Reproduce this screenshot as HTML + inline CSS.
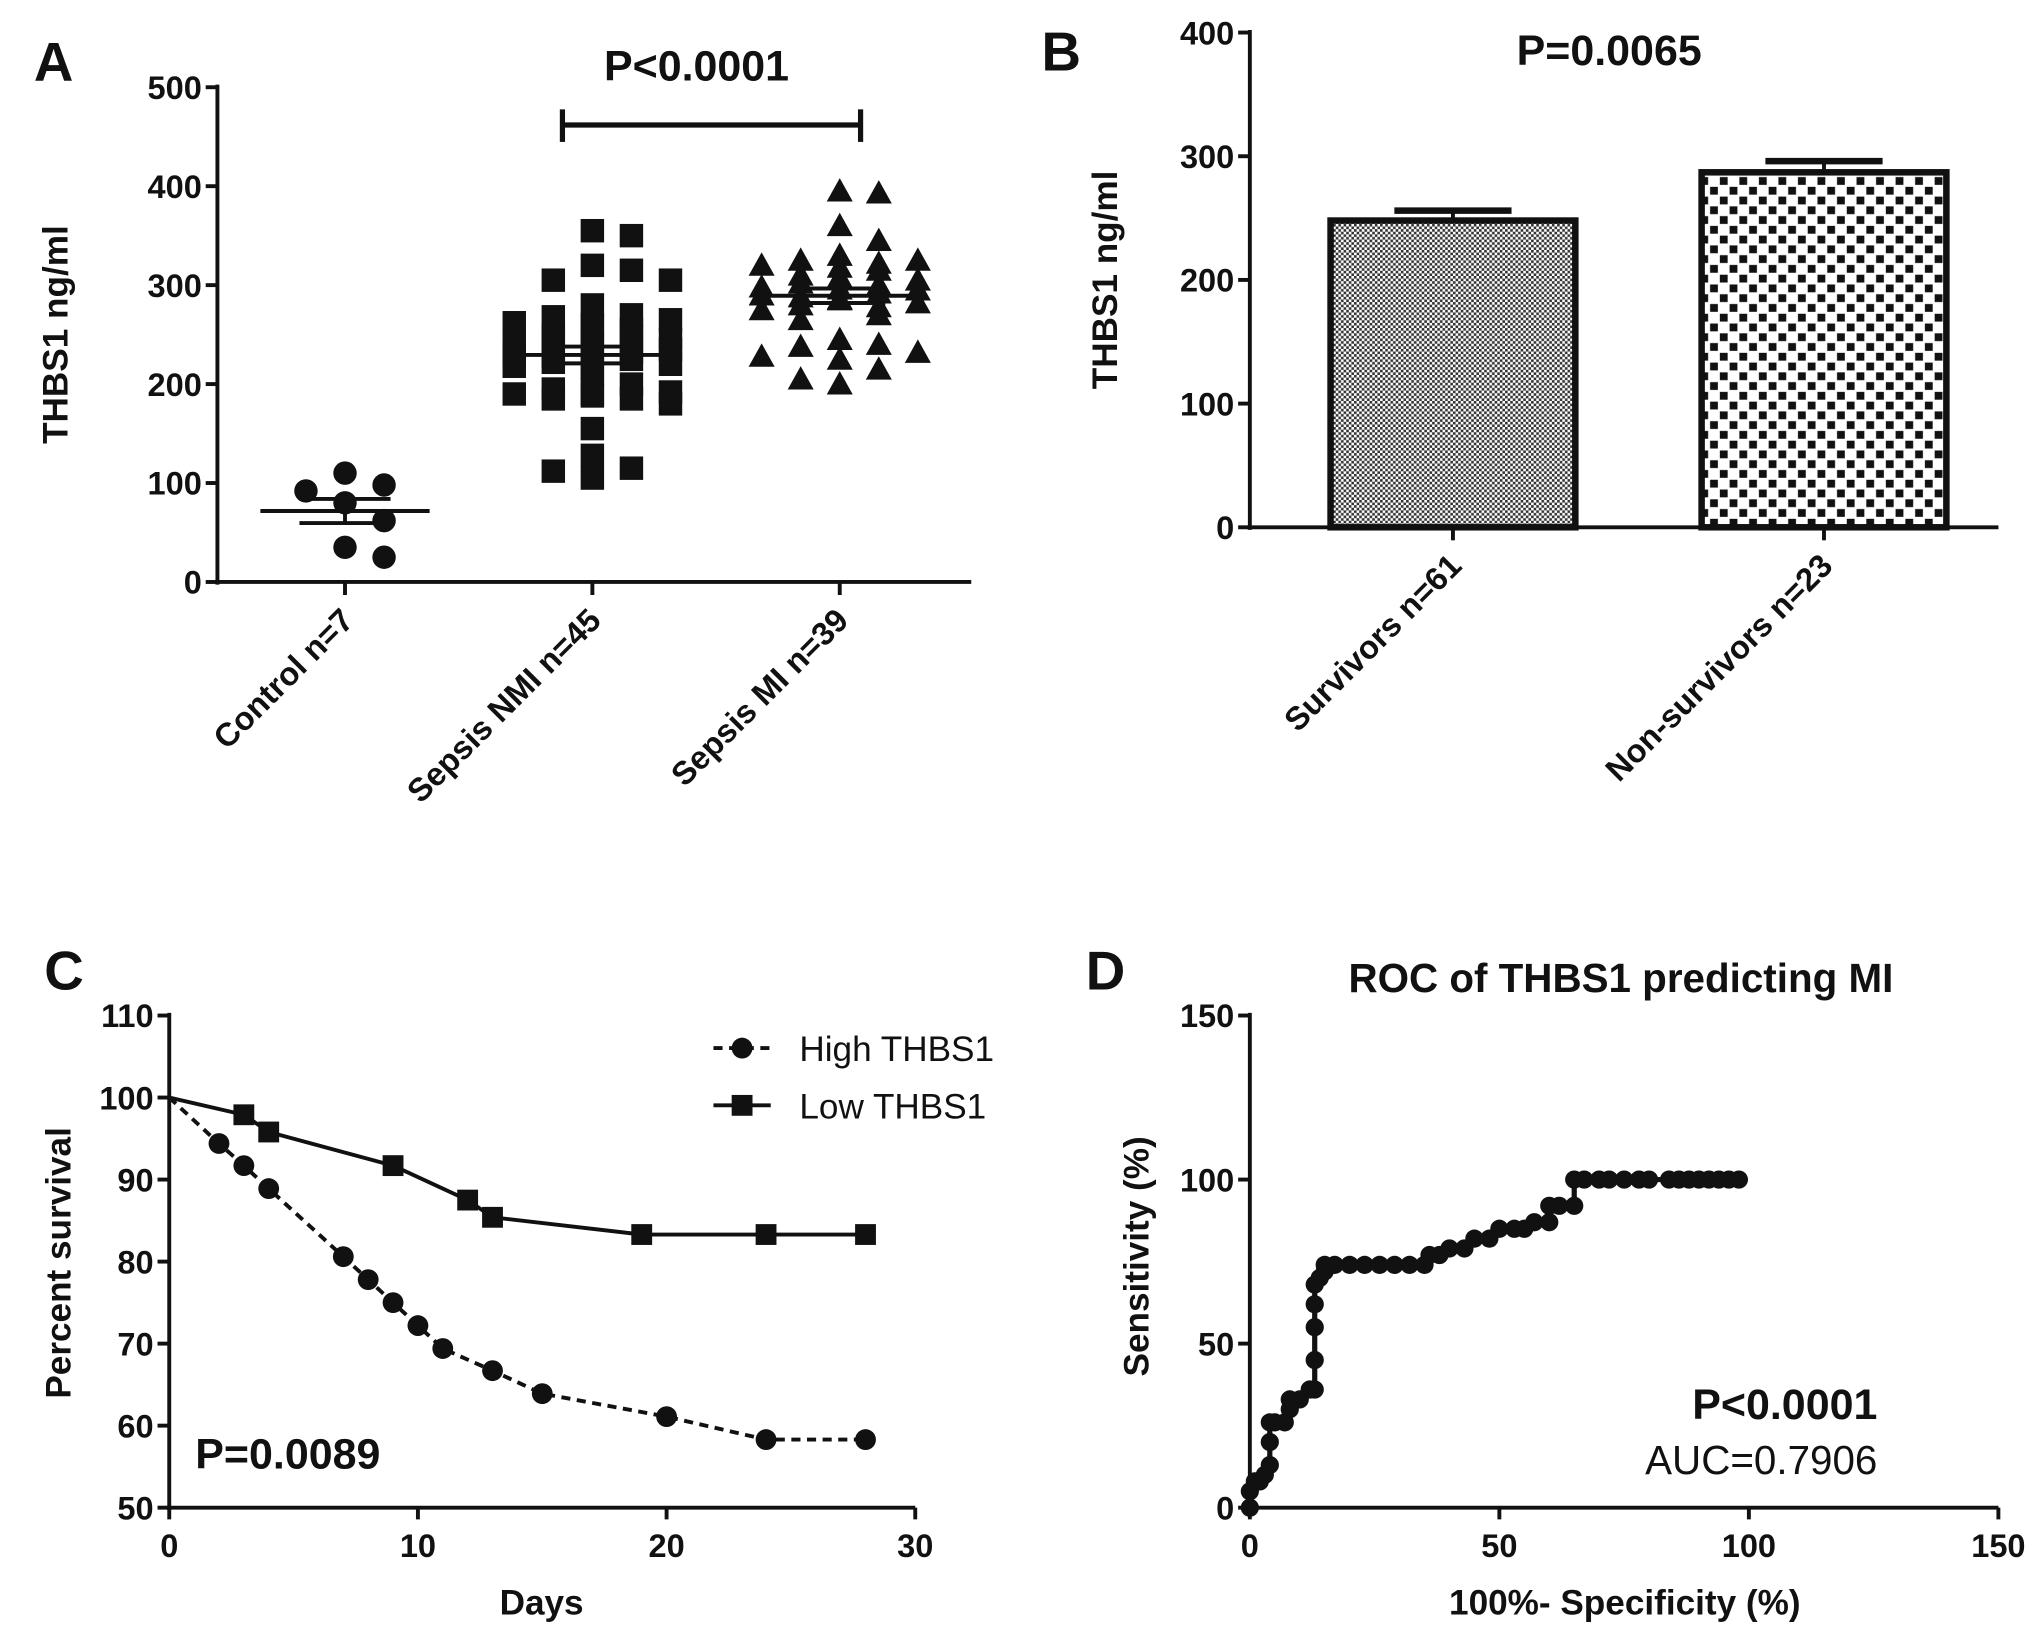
<!DOCTYPE html>
<html><head><meta charset="utf-8">
<style>
html,body{margin:0;padding:0;background:#fff;}
svg{display:block;}
text{font-family:"Liberation Sans",Arial,sans-serif;fill:#111;}
.b{font-weight:bold;}
</style></head>
<body>
<svg id="fig" width="2031" height="1632" viewBox="0 0 1560 1253.5" preserveAspectRatio="none" xmlns="http://www.w3.org/2000/svg">
<defs>
<pattern id="fine" width="4" height="4" patternUnits="userSpaceOnUse">
<rect width="4" height="4" fill="#fff"/><rect width="2" height="2" fill="#333"/><rect x="2" y="2" width="2" height="2" fill="#333"/>
</pattern>
<pattern id="checker" width="15" height="15" patternUnits="userSpaceOnUse">
<rect width="15" height="15" fill="#fff"/><rect x="1" y="1" width="6" height="6" fill="#111"/><rect x="8.5" y="8.5" width="6" height="6" fill="#111"/>
</pattern>
</defs>
</svg>
<script>
// ---------- Panel A data ----------
const aCategories = ["Control n=7","Sepsis NMI n=45","Sepsis MI n=39"];
const aControl = [110,98,92,80,62,35,25];
const aNMI = [355,350,320,315,305,305,280,270,268,265,262,260,258,255,250,248,245,245,240,238,235,235,232,230,228,225,222,220,218,215,210,200,195,192,190,190,188,185,185,180,155,128,115,112,105];
const aMI = [395,393,360,345,330,325,325,322,320,318,315,310,308,305,302,300,298,296,295,292,290,288,286,285,282,280,278,275,270,265,245,240,238,232,228,225,215,205,200];
const aYTicks = [0,100,200,300,400,500];
// ---------- Panel B data ----------
const bCategories = ["Survivors n=61","Non-survivors n=23"];
const bValues = [248,287];
const bErrors = [8,9];
const bYTicks = [0,100,200,300,400];
// ---------- Panel C data ----------
const cHighDays = [0,2,3,4,7,8,9,10,11,13,15,20,24,28];
const cHighSurv = [100,94.4,91.7,88.9,80.6,77.8,75,72.2,69.4,66.7,63.9,61.1,58.3,58.3];
const cLowDays = [0,3,4,9,12,13,19,24,28];
const cLowSurv = [100,97.9,95.8,91.7,87.5,85.4,83.3,83.3,83.3];
const cXTicks = [0,10,20,30];
const cYTicks = [50,60,70,80,90,100,110];
// ---------- Panel D data ----------
const dFPR = [0,0,1,2,3,4,4,4,5,7,8,8,10,12,13,13,13,13,13,14,15,15,17,20,23,26,29,32,35,36,38,40,43,45,48,50,53,55,57,60,60,62,65,65,67,70,72,75,78,80,84,86,88,90,92,94,96,98];
const dTPR = [0,5,8,8,10,13,20,26,26,26,30,33,33,36,36,45,55,62,68,70,72,74,74,74,74,74,74,74,74,77,77,79,79,82,82,85,85,85,87,87,92,92,92,100,100,100,100,100,100,100,100,100,100,100,100,100,100,100];
const dXTicks = [0,50,100,150];
const dYTicks = [0,50,100,150];

const svg = document.getElementById('fig');
const NS = "http://www.w3.org/2000/svg";
function mk(tag, attrs, parent){const e=document.createElementNS(NS,tag);for(const k in attrs)e.setAttribute(k,attrs[k]);(parent||svg).appendChild(e);return e;}
function txt(str, attrs, parent){const e=mk('text',attrs,parent);e.textContent=str;return e;}
function line(x1,y1,x2,y2,w,parent,dash){const a={x1,y1,x2,y2,stroke:'#111','stroke-width':w||3};if(dash)a['stroke-dasharray']=dash;return mk('line',a,parent);}

// ================= Panel A =================
const gA = mk('g',{});


const aY = v => 447 - v*0.76;
const aX = i => 265 + i*190;
let el = txt('A',{x:26,y:62,'font-size':42,class:'b'},gA);
 
line(167,65,167,449,3,gA); line(165,447,746,447,3,gA);
aYTicks.forEach(t=>{line(158,aY(t),167,aY(t),3,gA);
  const e=txt(String(t),{x:155,y:aY(t)+9,'font-size':25,'text-anchor':'end',class:'b'},gA);
   });
aCategories.forEach((c,i)=>{line(aX(i),447,aX(i),457,3,gA);
  const e=txt(c,{x:0,y:0,'font-size':25,'text-anchor':'end',class:'b',transform:`translate(${aX(i)+8},${478}) rotate(-45)`},gA);
   });
el = txt('THBS1 ng/ml',{x:0,y:0,'font-size':27,'text-anchor':'middle',class:'b',transform:'translate(52,257) rotate(-90)'},gA);
 
el = txt('P<0.0001',{x:535,y:62,'font-size':33,'text-anchor':'middle',class:'b'},gA);
 
line(432,96,661,96,4,gA); line(432,84,432,109,4,gA); line(661,84,661,109,4,gA);

function swarm(vals, r, step, maxK){ // bounded beeswarm offsets computed from values
  const placed=[]; const out=[];
  vals.forEach(v=>{const y=aY(v); let best=0, bestC=1e9;
    for(let k=0;k<=maxK;k++){
      const off=(k===0)?0:(k%2? Math.ceil(k/2)*step : -Math.ceil(k/2)*step);
      const c=placed.filter(p=>Math.abs(p.x-off)<2*r-4 && Math.abs(p.y-y)<2*r-4).length;
      if(c<bestC){bestC=c;best=off;} if(c===0)break;}
    placed.push({x:best,y}); out.push(best);});
  return out;
}
function meanOf(a){return a.reduce((s,v)=>s+v,0)/a.length;}
function semOf(a){const m=meanOf(a);return Math.sqrt(a.reduce((s,v)=>s+(v-m)*(v-m),0)/(a.length-1))/Math.sqrt(a.length);}
const groups=[aControl,aNMI,aMI];
groups.forEach((vals,gi)=>{
  const offs=swarm(vals,10,15,8);
  vals.forEach((v,j)=>{
    const cx=aX(gi)+offs[j], cy=aY(v); let m;
    if(gi===0){m=mk('circle',{cx,cy,r:9,fill:'#111'},gA);}
    else if(gi===1){m=mk('rect',{x:cx-9,y:cy-9,width:18,height:18,fill:'#111'},gA);}
    else{m=mk('polygon',{points:`${cx},${cy-10} ${cx-10},${cy+8} ${cx+10},${cy+8}`,fill:'#111'},gA);}
     
  });
  const mu=meanOf(vals), se=semOf(vals);
  const ml=line(aX(gi)-65,aY(mu),aX(gi)+65,aY(mu),3,gA);
   
  line(aX(gi)-35,aY(mu+se),aX(gi)+35,aY(mu+se),3,gA);
  line(aX(gi)-35,aY(mu-se),aX(gi)+35,aY(mu-se),3,gA);
  line(aX(gi),aY(mu+se),aX(gi),aY(mu-se),3,gA);
});

// ================= Panel B =================
const gB = mk('g',{});


const bY = v => 405 - v*0.95;
const bX = i => 1116 + i*285;
el = txt('B',{x:800,y:54,'font-size':42,class:'b'},gB);
 
line(960,23,960,407,3,gB); line(958,405,1535,405,3,gB);
bYTicks.forEach(t=>{line(951,bY(t),960,bY(t),3,gB);
  const e=txt(String(t),{x:948,y:bY(t)+9,'font-size':25,'text-anchor':'end',class:'b'},gB);
   });
el = txt('THBS1 ng/ml',{x:0,y:0,'font-size':27,'text-anchor':'middle',class:'b',transform:'translate(858,215) rotate(-90)'},gB);
 
el = txt('P=0.0065',{x:1236,y:50,'font-size':33,'text-anchor':'middle',class:'b'},gB);
 
bCategories.forEach((c,i)=>{
  const b=mk('rect',{x:bX(i)-94,y:bY(bValues[i]),width:188,height:bY(0)-bY(bValues[i]),fill:i===0?'url(#fine)':'url(#checker)',stroke:'#111','stroke-width':5},gB);
   
  const eb=line(bX(i),bY(bValues[i]),bX(i),bY(bValues[i]+bErrors[i]),3,gB);
   
  line(bX(i)-45,bY(bValues[i]+bErrors[i]),bX(i)+45,bY(bValues[i]+bErrors[i]),5,gB);
  line(bX(i),405,bX(i),415,3,gB);
  const e=txt(c,{x:0,y:0,'font-size':25,'text-anchor':'end',class:'b',transform:`translate(${bX(i)+8},${436}) rotate(-45)`},gB);
   
});

// ================= Panel C =================
const gC = mk('g',{});


const cX = d => 130 + d*19.1;
const cY = v => 1158 - (v-50)*6.3;
el = txt('C',{x:34,y:760,'font-size':42,class:'b'},gC);
 
line(130,778,130,1160,3,gC); line(128,1158,703,1158,3,gC);
cYTicks.forEach(t=>{line(121,cY(t),130,cY(t),3,gC);
  const e=txt(String(t),{x:118,y:cY(t)+9,'font-size':25,'text-anchor':'end',class:'b'},gC);
   });
cXTicks.forEach(t=>{line(cX(t),1158,cX(t),1167,3,gC);
  const e=txt(String(t),{x:cX(t),y:1196,'font-size':25,'text-anchor':'middle',class:'b'},gC);
   });
el = txt('Percent survival',{x:0,y:0,'font-size':27,'text-anchor':'middle',class:'b',transform:'translate(54,970) rotate(-90)'},gC);
 
el = txt('Days',{x:416,y:1240,'font-size':27,'text-anchor':'middle',class:'b'},gC);
 
el = txt('P=0.0089',{x:150,y:1128,'font-size':33,class:'b'},gC);
 
const hiPath = mk('polyline',{points:cHighDays.map((d,i)=>cX(d)+','+cY(cHighSurv[i])).join(' '),fill:'none',stroke:'#111','stroke-width':3,'stroke-dasharray':'7,5'},gC);
 
const loPath = mk('polyline',{points:cLowDays.map((d,i)=>cX(d)+','+cY(cLowSurv[i])).join(' '),fill:'none',stroke:'#111','stroke-width':3},gC);
 
cHighDays.forEach((d,i)=>{ if(d===0) return;
  const m=mk('circle',{cx:cX(d),cy:cY(cHighSurv[i]),r:8,fill:'#111'},gC);
   });
cLowDays.forEach((d,i)=>{ if(d===0) return;
  const m=mk('rect',{x:cX(d)-8,y:cY(cLowSurv[i])-8,width:16,height:16,fill:'#111'},gC);
   });
const lg=mk('g',{},gC);


line(548,805,592,805,3,lg,'7,5'); mk('circle',{cx:570,cy:805,r:8,fill:'#111'},lg);
el=txt('High THBS1',{x:614,y:815,'font-size':27},lg);
 
line(548,849,592,849,3,lg); mk('rect',{x:562,y:841,width:16,height:16,fill:'#111'},lg);
el=txt('Low THBS1',{x:614,y:859,'font-size':27},lg);
 

// ================= Panel D =================
const gD = mk('g',{});


const dX = v => 960 + v*3.833;
const dY = v => 1158 - v*2.52;
el = txt('D',{x:834,y:760,'font-size':42,class:'b'},gD);
 
el = txt('ROC of THBS1 predicting MI',{x:1245,y:762,'font-size':31,'text-anchor':'middle',class:'b'},gD);
 
line(960,778,960,1160,3,gD); line(958,1158,1535,1158,3,gD);
dYTicks.forEach(t=>{line(951,dY(t),960,dY(t),3,gD);
  const e=txt(String(t),{x:948,y:dY(t)+9,'font-size':25,'text-anchor':'end',class:'b'},gD);
   });
dXTicks.forEach(t=>{line(dX(t),1158,dX(t),1167,3,gD);
  const e=txt(String(t),{x:dX(t),y:1196,'font-size':25,'text-anchor':'middle',class:'b'},gD);
   });
el = txt('Sensitivity (%)',{x:0,y:0,'font-size':27,'text-anchor':'middle',class:'b',transform:'translate(882,965) rotate(-90)'},gD);
 
el = txt('100%- Specificity (%)',{x:1248,y:1240,'font-size':27,'text-anchor':'middle',class:'b'},gD);
 
const roc = mk('polyline',{points:dFPR.map((v,i)=>dX(v)+','+dY(dTPR[i])).join(' '),fill:'none',stroke:'#111','stroke-width':4},gD);
 
dFPR.forEach((v,i)=>{
  const m=mk('circle',{cx:dX(v),cy:dY(dTPR[i]),r:7,fill:'#111'},gD);
   });
el = txt('P<0.0001',{x:1442,y:1090,'font-size':33,'text-anchor':'end',class:'b'},gD);
 
el = txt('AUC=0.7906',{x:1442,y:1132,'font-size':31,'text-anchor':'end'},gD);
 
</script>
</body></html>
